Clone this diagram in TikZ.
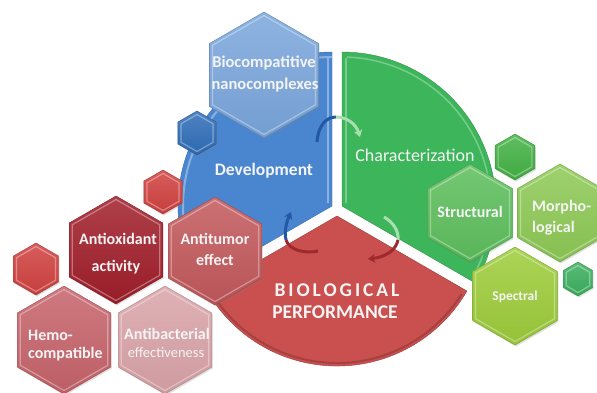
\documentclass[tikz,border=0pt]{standalone}
\usepackage{fontspec}
\setmainfont{Carlito}
\usetikzlibrary{shapes.geometric,arrows.meta,shadows}
\definecolor{bluesec}{HTML}{4A86CF}
\definecolor{bluehex}{HTML}{7AA6DC}
\definecolor{bluesmall}{HTML}{2F6DB8}
\definecolor{darkblue}{HTML}{2458A6}
\definecolor{greensec}{HTML}{3DB55B}
\definecolor{greensmall}{HTML}{43B244}
\definecolor{greenstruct}{HTML}{5DBE5C}
\definecolor{greenmorph}{HTML}{8DC955}
\definecolor{greenspec}{HTML}{9DCC3A}
\definecolor{greenright}{HTML}{3BAF5E}
\definecolor{lightgreen}{HTML}{A9DFAE}
\definecolor{redsec}{HTML}{C9504E}
\definecolor{redsmall}{HTML}{D0413F}
\definecolor{redox}{HTML}{A01E2A}
\definecolor{redtumor}{HTML}{C2585B}
\definecolor{redhemo}{HTML}{C6636A}
\definecolor{redbact}{HTML}{D9A3A8}
\definecolor{darkred}{HTML}{9E2A2E}
\definecolor{txt}{HTML}{F4F4F4}
\newcommand\hexa[5]{%
  \node[hexbase, minimum size=2*#4 pt, top color=#5!85!white, bottom color=#5!95!black,
        draw=#5!80!black, drop shadow={opacity=0.25,shadow xshift=1pt,shadow yshift=-1.5pt}] (#1) at (#2,#3) {};
  \node[hexbase, minimum size=(2*#4-7)*1pt, draw=white, draw opacity=0.35, line width=1.2pt] (#1-in) at (#2,#3) {};
}
\tikzset{
  hexbase/.style={regular polygon, regular polygon sides=6, shape border rotate=30,
                  inner sep=0pt, outer sep=0pt},
  lbl/.style={text=txt, font=\bfseries, inner sep=0pt, anchor=center},
  arr/.style={line width=3pt},
  tip/.style={-{Stealth[length=7pt,width=9pt]}}
}
\begin{document}
\begin{tikzpicture}[x=1pt,y=-1pt]
\useasboundingbox (0,0) rectangle (597,392);
\fill[white] (0,0) rectangle (597,392);

% sectors
\coordinate (bc) at (332,206);
\coordinate (gc) at (342,206);
\coordinate (rc) at (337,216);
\filldraw[fill=bluesec, draw=bluesec!80!black] (bc) -- ++(-90:154) arc[start angle=-90, end angle=-210, radius=154] -- cycle;
\draw[white, opacity=0.35, line width=2pt] (bc) ++(-90:149) arc[start angle=-90, end angle=-208, radius=149];
\draw[white, opacity=0.35, line width=2pt] (328,58) -- (328,203);
\filldraw[fill=greensec, draw=greensec!80!black] (gc) -- ++(30:154) arc[start angle=30, end angle=-90, radius=154] -- cycle;
\draw[white, opacity=0.3, line width=1.5pt] (346,58) -- (346,203);
\draw[white, opacity=0.3, line width=1.5pt] (gc) ++(28:149) arc[start angle=28, end angle=-88, radius=149];
\filldraw[fill=redsec, draw=redsec!75!black] (rc) -- ++(-210:150) arc[start angle=-210, end angle=-330, radius=150] -- cycle;
\draw[redsec!70!black, opacity=0.6, line width=2pt] (rc) ++(-212:147) arc[start angle=-212, end angle=-328, radius=147];

% arrows
\coordinate (a1s) at (317,142);
\coordinate (a1m) at (336,117);
\coordinate (a1e) at (360,137);
\draw[arr, darkblue] (a1s) .. controls (318,126) and (326,117) .. (a1m);
\draw[arr, lightgreen, tip] (a1m) .. controls (347,117) and (356,124) .. (a1e);
\coordinate (a2s) at (384,217);
\coordinate (a2m) at (398,240);
\coordinate (a2e) at (368,259);
\draw[arr, lightgreen] (a2s) .. controls (393,222) and (399,231) .. (a2m);
\draw[arr, darkred, tip] (a2m) .. controls (396,250) and (386,257) .. (a2e);
\coordinate (a3s) at (318,251);
\coordinate (a3m) at (286,240);
\coordinate (a3e) at (291,212);
\draw[arr, darkred] (a3s) .. controls (305,254) and (289,250) .. (a3m);
\draw[arr, darkblue, tip] (a3m) .. controls (284,230) and (287,221) .. (a3e);

% blue hexes
\hexa{bio}{264}{75}{63}{bluehex}
\hexa{bsm}{197}{133}{22}{bluesmall}
% red hexes
\hexa{rsm1}{163}{192}{22}{redsmall}
\hexa{rsm2}{36}{269}{26}{redsmall}
\hexa{antiox}{116}{250}{54}{redox}
\hexa{antitum}{215}{251}{54}{redtumor}
\hexa{hemo}{64}{340}{54}{redhemo}
\hexa{bact}{165}{340}{54}{redbact}
% green hexes
\hexa{gsm1}{515}{157}{23}{greensmall}
\hexa{struct}{470}{213}{49}{greenstruct}
\hexa{morph}{560}{213}{49}{greenmorph}
\hexa{spec}{515}{296}{49}{greenspec}
\hexa{gsm2}{578}{279}{17}{greenright}

% labels
\node[lbl, font=\bfseries\fontsize{16.5}{18}\selectfont] (t1) at (264,63) {Biocompatitive};
\node[lbl, font=\bfseries\fontsize{16.5}{18}\selectfont] (t2) at (265,85) {nanocomplexes};
\node[lbl, font=\bfseries\fontsize{17.5}{20}\selectfont] (t3) at (264,171) {Development};
\node[lbl, font=\fontsize{18}{20}\selectfont] (t4) at (415,155) {Characterization};
\node[lbl, font=\bfseries\fontsize{19.5}{22}\selectfont\addfontfeatures{LetterSpace=15}] (t5) at (337,290) {BIOLOGICAL};
\node[lbl, font=\bfseries\fontsize{19.5}{22}\selectfont] (t6) at (335,312) {PERFORMANCE};
\node[lbl, font=\bfseries\fontsize{16}{18}\selectfont] (t7) at (118,239) {Antioxidant};
\node[lbl, font=\bfseries\fontsize{16}{18}\selectfont] (t8) at (116,267) {activity};
\node[lbl, font=\bfseries\fontsize{16}{18}\selectfont] (t9) at (215,239) {Antitumor};
\node[lbl, font=\bfseries\fontsize{16}{18}\selectfont] (t10) at (215,260) {effect};
\node[lbl, font=\bfseries\fontsize{16}{18}\selectfont, anchor=west] (t11) at (28,335) {Hemo-};
\node[lbl, font=\bfseries\fontsize{16}{18}\selectfont, anchor=west] (t12) at (28,354) {compatible};
\node[lbl, font=\bfseries\fontsize{16}{18}\selectfont] (t13) at (167,334) {Antibacterial};
\node[lbl, font=\fontsize{14.5}{16}\selectfont] (t14) at (166,353) {effectiveness};
\node[lbl, font=\bfseries\fontsize{16}{18}\selectfont] (t15) at (470,212) {Structural};
\node[lbl, font=\bfseries\fontsize{16}{18}\selectfont, anchor=west] (t16) at (532,207) {Morpho-};
\node[lbl, font=\bfseries\fontsize{16}{18}\selectfont, anchor=west] (t17) at (532,228) {logical};
\node[lbl, font=\bfseries\fontsize{13.5}{15}\selectfont] (t18) at (515,297) {Spectral};
\end{tikzpicture}
\end{document}
